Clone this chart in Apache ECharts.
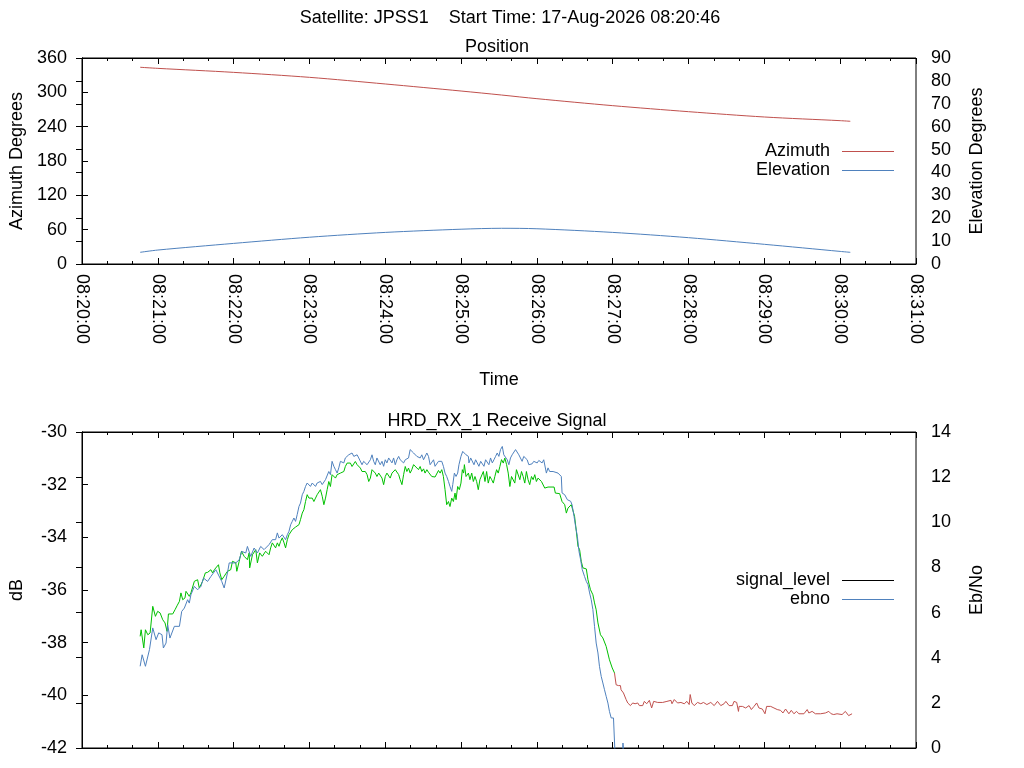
<!DOCTYPE html>
<html>
<head>
<meta charset="utf-8">
<title>JPSS1 pass</title>
<script src="https://cdn.jsdelivr.net/npm/echarts@6/dist/echarts.min.js"></script>
<style>
  html, body { margin: 0; background: #fff; }
  #chart { width: 1024px; height: 768px; }
</style>
</head>
<body>
<div id="chart"></div>
<script>
// all times are seconds after 08:20:00
var posTime   = [46, 60, 120, 180, 240, 300, 332, 360, 420, 480, 540, 600, 608];
var azimuth   = [343.8, 341.9, 334.9, 326.2, 314.6, 302.3, 295.3, 288.9, 276.7, 266.2, 256.9, 250.5, 249.4];
var elevation = [5.1, 6.1, 9.0, 11.7, 13.8, 15.2, 15.6, 15.4, 13.8, 11.5, 8.6, 5.5, 5.1];

var sigTime = [
  46.0, 46.8, 48.9, 50.2, 52.1, 53.9, 56.0, 58.1, 59.9, 61.8, 63.9, 65.7, 67.3, 68.4, 71.8, 73.6, 75.2, 77.1, 78.3, 79.7,
  81.5, 82.3, 83.6, 84.9, 86.2, 88.9, 91.5, 92.8, 94.1, 95.4, 97.6, 99.4, 102.0, 103.3, 104.7, 108.0, 109.1, 110.6, 112.5, 115.1,
  117.7, 119.1, 121.7, 122.5, 124.4, 126.2, 128.3, 130.9, 132.3, 132.7, 134.9, 137.5, 138.8, 140.6, 142.7, 145.3, 148.0, 149.3, 150.6, 153.2,
  154.6, 155.9, 157.2, 158.5, 159.9, 161.1, 162.5, 163.8, 165.1, 166.4, 167.7, 169.0, 170.3, 171.7, 172.9, 174.3, 175.6, 176.9, 178.2, 179.6,
  180.8, 182.2, 183.5, 184.8, 186.1, 187.5, 188.7, 190.1, 191.4, 192.7, 194.0, 195.3, 196.6, 197.9, 199.3, 200.6, 201.9, 203.2, 204.5, 205.8,
  207.2, 208.4, 209.8, 211.1, 212.4, 213.7, 215.1, 216.3, 217.7, 219.0, 220.3, 221.6, 222.9, 224.2, 225.6, 226.9, 228.2, 229.5, 230.8, 232.1,
  233.4, 234.8, 236.0, 237.4, 238.7, 240.0, 241.3, 242.7, 243.9, 245.3, 246.6, 247.9, 249.2, 250.6, 251.8, 253.2, 254.5, 255.8, 257.1, 258.4,
  259.7, 261.0, 262.4, 263.6, 266.3, 267.6, 268.9, 270.3, 271.5, 272.9, 274.2, 275.5, 276.8, 279.4, 280.8, 282.1, 283.4, 284.7, 286.0, 287.3,
  288.6, 290.0, 291.2, 292.6, 293.9, 295.2, 296.0, 297.3, 298.6, 299.9, 301.0, 302.0, 302.6, 303.9, 305.8, 307.0, 308.4, 309.7, 311.0, 312.3,
  313.6, 314.9, 316.2, 317.6, 318.9, 320.2, 321.5, 322.8, 324.2, 325.5, 326.7, 328.1, 329.4, 330.7, 332.0, 333.4, 334.6, 336.0, 337.3, 338.6,
  339.9, 341.2, 342.5, 343.8, 345.2, 346.5, 347.8, 349.1, 350.4, 351.7, 353.0, 354.3, 355.7, 357.0, 358.3, 359.6, 360.9, 362.2, 363.6, 366.2,
  368.8, 373.6, 374.6, 378.0, 379.9, 382.0, 383.3, 384.6, 385.9, 387.2, 388.6, 389.8, 391.2, 392.5, 393.8, 395.1, 396.4, 399.1, 400.4, 402.4,
  404.3, 405.6, 406.9, 408.3, 410.3, 412.2, 414.8, 417.4, 419.6, 421.4, 422.7, 424.5, 426.1, 426.6, 428.5, 430.6, 431.9, 434.0, 435.8, 437.7,
  439.8, 441.1, 443.7, 445.0, 446.9, 449.0, 450.8, 452.4, 455.6, 459.5, 462.9, 466.1, 466.9, 468.7, 471.3, 474.0, 476.6, 478.7, 480.5, 481.3,
  482.6, 484.5, 487.1, 489.7, 491.8, 494.5, 497.6, 500.3, 502.9, 505.5, 508.1, 509.5, 512.1, 514.7, 516.0, 518.1, 519.5, 520.0, 522.6, 525.2,
  527.9, 529.7, 531.8, 533.9, 535.7, 538.4, 540.5, 541.8, 545.0, 547.6, 550.2, 552.8, 554.7, 556.8, 559.4, 561.3, 563.4, 565.5, 567.3, 571.3,
  573.9, 575.2, 577.8, 580.4, 584.4, 588.3, 591.0, 592.8, 594.9, 597.5, 601.5, 604.1, 606.7, 609.4
];
var sigLevel = [
  -37.76, -37.51, -38.20, -37.51, -37.70, -37.63, -36.62, -37.00, -36.81, -36.87, -37.13, -37.25, -37.57, -36.91, -36.91, -36.75, -36.60, -36.43, -36.11, -36.37,
  -36.30, -36.05, -35.99, -36.24, -36.11, -35.67, -35.61, -35.92, -35.80, -35.67, -35.35, -35.33, -35.23, -35.35, -35.23, -35.04, -35.35, -35.61, -35.48, -35.29,
  -35.23, -34.91, -34.97, -35.29, -34.91, -34.53, -34.72, -34.85, -34.59, -35.16, -34.66, -34.47, -34.97, -34.59, -34.72, -34.53, -34.66, -34.40, -34.21, -34.40,
  -34.21, -34.34, -34.15, -34.02, -34.21, -34.40, -34.09, -33.90, -33.84, -33.71, -33.65, -33.61, -33.58, -33.52, -33.33, -33.08, -32.95, -32.64, -32.38, -32.51,
  -32.57, -32.51, -32.64, -32.51, -32.38, -32.44, -32.19, -32.44, -32.76, -32.51, -32.19, -31.88, -32.07, -31.62, -31.69, -31.75, -31.62, -31.69, -31.56, -31.62,
  -31.50, -31.31, -31.18, -31.24, -31.18, -31.31, -31.24, -31.12, -31.24, -31.18, -31.37, -31.50, -31.56, -31.50, -31.62, -31.88, -31.75, -31.43, -31.50, -31.56,
  -31.69, -31.56, -31.62, -31.75, -32.00, -31.69, -31.56, -31.50, -31.75, -31.56, -31.50, -31.43, -31.37, -31.62, -31.81, -32.00, -31.62, -31.31, -31.50, -31.37,
  -31.56, -31.43, -31.24, -31.31, -31.43, -31.31, -31.50, -31.40, -31.56, -31.43, -31.53, -31.46, -31.69, -31.71, -31.69, -31.46, -31.56, -31.43, -31.69, -32.19,
  -32.76, -32.64, -32.83, -32.51, -32.64, -32.32, -32.57, -32.07, -32.19, -31.94, -31.43, -31.56, -31.24, -31.69, -31.56, -31.81, -31.56, -31.88, -31.69, -31.88,
  -32.19, -31.81, -31.75, -31.50, -31.88, -31.50, -31.94, -31.69, -31.81, -31.94, -31.69, -31.43, -31.56, -31.31, -31.05, -31.18, -30.99, -31.24, -31.56, -32.07,
  -31.69, -31.69, -31.94, -31.43, -31.50, -31.81, -31.50, -31.69, -31.94, -31.50, -31.81, -32.00, -31.69, -31.81, -31.62, -31.88, -31.75, -31.69, -31.88, -32.13,
  -32.09, -32.09, -32.32, -32.34, -32.64, -32.76, -33.08, -32.89, -32.83, -32.76, -32.83, -33.20, -33.77, -34.34, -34.47, -34.91, -35.16, -35.20, -35.61, -35.99,
  -36.18, -36.49, -36.75, -37.25, -37.70, -37.82, -38.14, -38.65, -38.96, -39.15, -39.60, -39.63, -39.63, -39.79, -39.91, -40.16, -40.29, -40.39, -40.29, -40.32,
  -40.29, -40.39, -40.39, -40.23, -40.32, -40.19, -40.48, -40.23, -40.27, -40.27, -40.23, -40.19, -40.32, -40.16, -40.29, -40.27, -40.32, -40.23, -40.35, -39.97,
  -40.29, -40.39, -40.27, -40.32, -40.27, -40.35, -40.27, -40.39, -40.23, -40.39, -40.32, -40.23, -40.39, -40.39, -40.23, -40.27, -40.61, -40.42, -40.42, -40.48,
  -40.39, -40.54, -40.42, -40.29, -40.48, -40.52, -40.70, -40.42, -40.42, -40.48, -40.54, -40.57, -40.67, -40.52, -40.70, -40.57, -40.70, -40.61, -40.70, -40.70,
  -40.54, -40.67, -40.61, -40.70, -40.70, -40.67, -40.61, -40.70, -40.73, -40.70, -40.73, -40.61, -40.77, -40.70
];
// receiver lost lock here; signal trace drawn red after this time
var lockLost = 421.5;

var ebnoTime = [
  46.0, 47.6, 50.2, 53.4, 56.0, 58.6, 60.7, 63.3, 64.4, 66.5, 67.8, 69.6, 73.1, 77.1, 78.9, 81.0, 83.6, 84.9, 86.2, 88.9,
  91.5, 94.1, 96.2, 99.4, 102.0, 105.9, 110.6, 112.5, 115.1, 116.5, 121.7, 124.4, 126.4, 129.6, 130.9, 133.5, 136.2, 138.8, 141.4, 144.1,
  148.0, 150.6, 153.2, 154.6, 155.9, 157.2, 158.5, 159.9, 161.1, 162.5, 163.8, 165.1, 166.4, 167.7, 169.0, 170.3, 171.7, 172.9, 174.3, 175.6,
  176.9, 178.2, 179.6, 180.8, 182.2, 183.5, 184.8, 186.1, 187.5, 188.7, 190.1, 191.4, 192.7, 194.0, 195.3, 196.6, 197.9, 199.3, 200.6, 201.9,
  203.2, 204.5, 205.8, 207.2, 208.4, 209.8, 211.1, 212.4, 213.7, 215.1, 216.3, 217.7, 219.0, 220.3, 221.6, 222.9, 224.2, 225.6, 226.9, 228.2,
  229.5, 230.8, 232.1, 233.4, 234.8, 236.0, 237.4, 238.7, 240.0, 241.3, 242.7, 243.9, 245.3, 246.6, 247.9, 249.2, 250.6, 251.8, 253.2, 254.5,
  255.8, 257.1, 258.4, 259.7, 261.0, 262.4, 263.6, 265.0, 266.3, 267.6, 268.9, 270.3, 271.5, 272.9, 274.2, 275.5, 276.8, 278.2, 279.4, 280.8,
  282.1, 283.4, 284.7, 286.0, 287.3, 288.6, 290.0, 291.2, 292.6, 293.4, 294.7, 296.0, 297.3, 298.3, 299.9, 301.3, 302.6, 303.9, 305.8, 306.2,
  307.6, 308.9, 310.2, 311.5, 312.8, 314.1, 315.5, 316.8, 318.1, 319.4, 320.7, 322.0, 323.3, 324.7, 326.0, 327.3, 328.6, 329.9, 331.2, 332.6,
  333.8, 335.2, 336.5, 337.8, 339.1, 340.4, 341.7, 343.1, 344.4, 345.7, 347.0, 348.3, 349.6, 350.9, 352.3, 353.6, 354.9, 356.2, 357.5, 358.8,
  360.2, 361.5, 362.8, 364.1, 365.4, 366.7, 367.5, 368.8, 370.1, 371.5, 372.8, 374.1, 376.7, 378.0, 379.3, 379.9, 382.0, 384.1, 386.7, 387.8,
  389.4, 390.6, 392.0, 393.3, 394.6, 395.9, 397.7, 399.1, 400.4, 401.7, 403.0, 404.3, 405.6, 406.9, 408.3, 409.5, 410.9, 412.2, 413.5, 414.8,
  416.2, 417.4, 418.8, 420.6, 421.4, 422.0, 427.6, 428.1, 429.2
];
var ebno = [
  3.62, 4.13, 3.62, 4.36, 5.32, 4.80, 5.10, 5.02, 4.43, 4.65, 5.46, 4.87, 5.39, 5.39, 6.05, 6.20, 6.57, 6.42, 6.79, 7.16,
  7.01, 7.16, 7.53, 7.38, 7.60, 7.90, 7.38, 7.09, 7.75, 8.20, 8.20, 8.34, 8.71, 8.64, 8.93, 8.49, 8.86, 8.64, 8.93, 8.79,
  9.01, 9.23, 9.23, 9.53, 9.30, 9.23, 9.45, 9.38, 9.23, 9.45, 9.60, 9.89, 10.04, 10.19, 10.04, 10.34, 10.70, 10.85, 11.22, 11.37,
  11.59, 11.74, 11.67, 11.59, 11.74, 11.67, 11.59, 11.74, 11.67, 11.81, 11.67, 11.74, 11.89, 11.96, 12.25, 12.11, 12.70, 12.48, 12.33, 12.18,
  12.41, 12.70, 12.77, 12.63, 12.85, 12.92, 12.99, 12.92, 13.07, 12.92, 12.92, 12.99, 12.85, 12.77, 12.55, 12.70, 12.63, 12.55, 12.63, 12.77,
  12.99, 12.70, 12.55, 12.85, 12.77, 12.55, 12.70, 12.48, 12.77, 12.63, 12.85, 12.77, 12.63, 12.85, 12.55, 12.77, 12.92, 12.77, 12.85, 12.63,
  12.77, 12.70, 12.85, 13.22, 13.29, 13.07, 13.14, 12.92, 12.99, 12.85, 12.99, 12.77, 12.85, 13.07, 12.92, 12.55, 12.63, 12.77, 12.48, 12.55,
  12.70, 12.77, 12.70, 12.48, 12.18, 12.03, 11.81, 11.59, 11.37, 11.67, 12.18, 12.03, 12.18, 12.55, 12.92, 13.14, 13.22, 12.99, 12.92, 12.63,
  12.85, 12.77, 12.55, 12.77, 12.63, 12.48, 12.70, 12.63, 12.48, 12.77, 12.70, 12.55, 12.85, 12.63, 12.77, 12.92, 13.07, 12.92, 13.22, 13.36,
  12.99, 13.07, 12.77, 12.55, 12.85, 12.99, 13.07, 13.22, 13.29, 12.99, 12.92, 12.70, 12.92, 12.99, 12.77, 12.55, 12.63, 12.59, 12.70, 12.65,
  12.63, 12.74, 12.70, 12.63, 12.77, 12.85, 12.18, 12.41, 12.25, 12.25, 12.25, 12.18, 12.18, 12.11, 12.03, 11.30, 11.22, 11.00, 10.93, 10.78,
  10.26, 9.82, 9.38, 8.71, 8.34, 7.90, 7.60, 7.38, 7.24, 6.87, 6.57, 6.13, 5.39, 4.65, 4.21, 3.62, 3.17, 2.88, 2.58, 2.29,
  1.99, 1.62, 1.33, 1.33, 1.40, -0.5, -0.5, 0.22, -0.5
];

function pairs(xs, ys) {
  var out = [];
  for (var i = 0; i < xs.length; i++) out.push([xs[i], ys[i]]);
  return out;
}
function pad(n) { return (n < 10 ? '0' : '') + n; }
function clock(s) {
  var m = 20 + Math.floor(s / 60);
  return '08:' + pad(m) + ':' + pad(Math.round(s % 60));
}

// split the signal trace into locked (green) and unlocked (red) parts
var sigLocked = [], sigUnlocked = [];
for (var i = 0; i < sigTime.length; i++) {
  if (sigTime[i] <= lockLost) sigLocked.push([sigTime[i], sigLevel[i]]);
  if (sigTime[i] > lockLost || (i + 1 < sigTime.length && sigTime[i + 1] > lockLost && sigTime[i] <= lockLost))
    sigUnlocked.push([sigTime[i], sigLevel[i]]);
}

var FONT = 'Liberation Sans';
var FS = 18;
var RED = '#c0504d', BLUE = '#4f81bd', GREEN = '#00c000';

function timeAxis(grid, pos, labels) {
  var ax = {
    gridIndex: grid, type: 'value', position: pos, min: 0, max: 660, interval: 60,
    axisLine: { show: true, onZero: false, lineStyle: { color: '#000', width: 1 } },
    axisTick: { show: true, inside: true, length: 6, lineStyle: { color: '#000' } },
    minorTick: { show: true, splitNumber: 3, length: 3, lineStyle: { color: '#000' } },
    splitLine: { show: false },
    axisLabel: { show: false }
  };
  if (labels) {
    ax.axisLabel = { show: true, rotate: -90, margin: 10, formatter: clock,
                     color: '#000', fontFamily: FONT, fontSize: FS };
    ax.name = 'Time';
    ax.nameLocation = 'middle';
    ax.nameGap = 107;
    ax.nameTextStyle = { color: '#000', fontFamily: FONT, fontSize: FS };
  }
  return ax;
}
function valueAxis(grid, pos, min, max, step, name, gap) {
  return {
    gridIndex: grid, type: 'value', position: pos, min: min, max: max, interval: step,
    name: name, nameLocation: 'middle', nameGap: gap, nameRotate: 90,
    nameTextStyle: { color: '#000', fontFamily: FONT, fontSize: FS },
    axisLine: { show: true, lineStyle: { color: '#000', width: 1 } },
    axisTick: { show: true, inside: true, length: 6, lineStyle: { color: '#000' } },
    splitLine: { show: false },
    axisLabel: { margin: 15, color: '#000', fontFamily: FONT, fontSize: FS }
  };
}
function key(name, color) {
  return { name: name, itemStyle: { color: color }, lineStyle: { color: color } };
}
function legendBox(items, top) {
  return {
    data: items, orient: 'vertical', align: 'right', icon: 'rect',
    right: 130, top: top, padding: 0, itemWidth: 52, itemHeight: 1, itemGap: 0,
    textStyle: { color: '#000', fontFamily: FONT, fontSize: FS, lineHeight: 19, padding: [0, 7, 0, 0] }
  };
}
function heading(text, x, y) {
  return { text: text, left: x, top: y, textAlign: 'center', padding: 0,
           textStyle: { color: '#000', fontFamily: FONT, fontSize: FS, fontWeight: 'normal' } };
}

var myChart = echarts.init(document.getElementById('chart'), null, { renderer: 'canvas' });

var option = {
  backgroundColor: '#fff',
  animation: false,
  title: [
    heading('Satellite: JPSS1    Start Time: 17-Aug-2026 08:20:46', 510, 9),
    heading('Position', 497, 38),
    heading('HRD_RX_1 Receive Signal', 497, 412)
  ],
  legend: [
    legendBox([key('Azimuth', RED), key('Elevation', BLUE)], 142),
    legendBox([key('signal_level', '#000'), key('ebno', BLUE)], 571)
  ],
  grid: [
    { left: 79, top: 58, width: 837, height: 206, show: true, borderColor: '#000', borderWidth: 1, backgroundColor: 'transparent' },
    { left: 79, top: 432, width: 837, height: 316, show: true, borderColor: '#000', borderWidth: 1, backgroundColor: 'transparent' }
  ],
  xAxis: [
    timeAxis(0, 'bottom', true),
    timeAxis(0, 'top', false),
    timeAxis(1, 'bottom', false),
    timeAxis(1, 'top', false)
  ],
  yAxis: [
    valueAxis(0, 'left', 0, 360, 60, 'Azimuth Degrees', 56),
    valueAxis(0, 'right', 0, 90, 10, 'Elevation Degrees', 52),
    valueAxis(1, 'left', -42, -30, 2, 'dB', 56),
    valueAxis(1, 'right', 0, 14, 2, 'Eb/No', 52)
  ],
  series: [
    { name: 'Azimuth', type: 'line', xAxisIndex: 0, yAxisIndex: 0, data: pairs(posTime, azimuth),
      smooth: 0.3, symbol: 'none', color: RED, lineStyle: { width: 1, color: RED } },
    { name: 'Elevation', type: 'line', xAxisIndex: 0, yAxisIndex: 1, data: pairs(posTime, elevation),
      smooth: 0.3, symbol: 'none', color: BLUE, lineStyle: { width: 1, color: BLUE } },
    { name: 'signal_level', type: 'line', xAxisIndex: 2, yAxisIndex: 2, data: sigLocked,
      symbol: 'none', color: GREEN, lineStyle: { width: 1, color: GREEN } },
    { name: 'signal_level', type: 'line', xAxisIndex: 2, yAxisIndex: 2, data: sigUnlocked,
      symbol: 'none', color: RED, lineStyle: { width: 1, color: RED } },
    { name: 'ebno', type: 'line', xAxisIndex: 2, yAxisIndex: 3, data: pairs(ebnoTime, ebno),
      symbol: 'none', color: BLUE, lineStyle: { width: 1, color: BLUE } }
  ]
};

myChart.setOption(option);
</script>
</body>
</html>
